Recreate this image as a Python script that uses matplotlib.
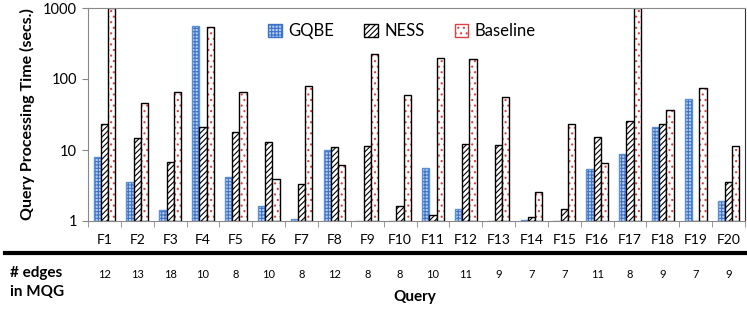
import numpy as np
import matplotlib
matplotlib.use("Agg")
import matplotlib.pyplot as plt
from matplotlib.lines import Line2D
from matplotlib.patches import Patch

plt.rcParams["font.family"] = ["Lato", "DejaVu Sans"]
plt.rcParams["hatch.linewidth"] = 0.8

queries = [f"F{i}" for i in range(1, 21)]
edges = [12, 13, 18, 10, 8, 10, 8, 12, 8, 8, 10, 11, 9, 7, 7, 11, 8, 9, 7, 9]

gqbe = [7.9, 3.5, 1.43, 557, 4.2, 1.63, 1.08, 10, 1.0, 1.0,
        5.6, 1.47, 1.0, 1.02, 1.0, 5.4, 8.8, 21, 52.5, 1.9]
ness = [23, 14.7, 6.8, 21, 18, 13, 3.3, 11, 11.4, 1.63,
        1.2, 12.2, 11.7, 1.15, 1.48, 15, 25.7, 23, 1.0, 3.5]
baseline = [1000, 46, 66, 540, 66, 3.9, 80, 6.1, 225, 60,
            198, 190, 55, 2.56, 23, 6.6, 1000, 36.6, 75, 11.4]

series = [
    ("GQBE", gqbe, "#b5cdef", "#3d72c9", "+++++", "#5b8fd6"),
    ("NESS", ness, "white", "black", "//////", "black"),
    ("Baseline", baseline, "white", "#e04040", "...", "black"),
]

fig = plt.figure(figsize=(7.47, 3.11), dpi=100)
ax = fig.add_axes([88 / 747, 1 - 221 / 311, (745 - 88) / 747, (221 - 8) / 311])

x = np.arange(len(queries))
w = 0.22
handles = []
for k, (name, vals, face, hcol, hatch, edge) in enumerate(series):
    pos = x + (k - 1) * w
    heights = np.array(vals) - 1
    ax.bar(pos, heights, w, bottom=1, color=face, edgecolor=hcol, hatch=hatch, linewidth=0)
    ax.bar(pos, heights, w, bottom=1, fill=False, edgecolor=edge, linewidth=1.0)
    handles.append(Patch(facecolor=face, edgecolor=hcol, hatch=hatch, label=name))

ax.set_yscale("log")
ax.set_ylim(1, 1000)
ax.set_xlim(-0.5, len(queries) - 0.5)
ax.set_yticks([1, 10, 100, 1000])
ax.set_yticklabels(["1", "10", "100", "1000"], fontsize=10.5)
ax.yaxis.set_minor_locator(matplotlib.ticker.NullLocator())
ax.set_xticks(x)
ax.set_xticklabels(queries, fontsize=10)
ax.set_xticks(np.arange(-0.5, len(queries)), minor=True)
ax.tick_params(axis="x", which="major", length=0, pad=9)
ax.tick_params(axis="x", which="minor", length=4, color="#888888")
ax.tick_params(axis="y", which="major", length=4, color="#888888", pad=4)
for s in ["left", "bottom", "top"]:
    ax.spines[s].set_color("#888888")
ax.spines["right"].set_color("#333333")

ax.set_ylabel("Query Processing Time (secs.)", fontsize=11.5, fontweight="bold", labelpad=6)

ax.legend(handles=handles, loc="upper center", bbox_to_anchor=(0.478, 1.0), ncol=3,
          frameon=False, fontsize=12, handlelength=0.8, handleheight=0.8,
          columnspacing=1.8, handletextpad=0.4)

# edge-count row below the axis
fig.add_artist(Line2D([5 / 747, 1.0], [1 - 253 / 311] * 2, color="black", lw=3))
for xi, e in zip(x, edges):
    fx = ax.transData.transform((xi, 1))[0] / fig.bbox.width
    fig.text(fx, 1 - 274 / 311, str(e), ha="center", va="center", fontsize=8)
fig.text(10 / 747, 1 - 273 / 311, "# edges", ha="left", va="center", fontsize=11, fontweight="bold")
fig.text(10 / 747, 1 - 292 / 311, "in MQG", ha="left", va="center", fontsize=11, fontweight="bold")
fig.text(415 / 747, 1 - 297 / 311, "Query", ha="center", va="center", fontsize=11, fontweight="bold")

fig.savefig("out.png", dpi=100)
